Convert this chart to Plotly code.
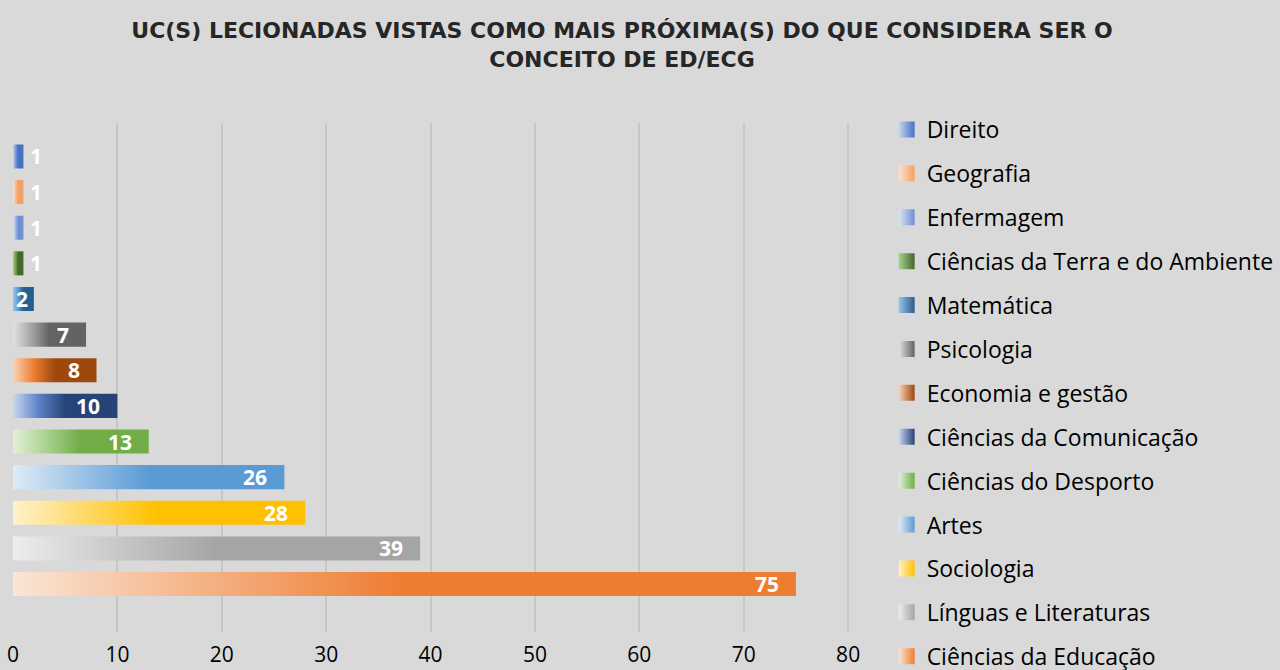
import plotly.graph_objects as go

# ---- data (top of legend / top of chart first) ----
categories = ["Direito", "Geografia", "Enfermagem", "Ciências da Terra e do Ambiente",
              "Matemática", "Psicologia", "Economia e gestão", "Ciências da Comunicação",
              "Ciências do Desporto", "Artes", "Sociologia", "Línguas e Literaturas",
              "Ciências da Educação"]
values = [1, 1, 1, 1, 2, 7, 8, 10, 13, 26, 28, 39, 75]
x_ticks = [0, 10, 20, 30, 40, 50, 60, 70, 80]

# gradient colours: light start, middle, full colour
start_colors = ["#C9D6EE", "#FCE2CF", "#DCE4F4", "#A9D18E", "#9DC3E6", "#E2E2E2", "#FBD3B8",
                "#C9D6EE", "#E2F0D9", "#DEEBF7", "#FFF2CC", "#EDEDED", "#FBE5D6"]
mid_colors = ["#7A9AD6", "#F7BE93", "#A3B8E3", "#6EA446", "#5B9BD5", "#A5A5A5", "#ED7D31",
              "#5A82C8", "#A9D18E", "#9DC3E6", "#FFD966", "#C9C9C9", "#F4B183"]
end_colors = ["#4472C4", "#F4A062", "#6E90D3", "#43682B", "#255E91", "#636363", "#9E480E",
              "#264478", "#70AD47", "#5B9BD5", "#FFC000", "#A5A5A5", "#ED7D31"]

BAR_HALF = 0.337
n = len(categories)
fig = go.Figure()

for k, (cat, v) in enumerate(zip(categories, values)):
    pos = n - 1 - k  # Direito at the top
    fig.add_trace(go.Scatter(
        x=[0, v, v, 0], y=[pos - BAR_HALF, pos - BAR_HALF, pos + BAR_HALF, pos + BAR_HALF],
        fill="toself", mode="lines", line=dict(width=0, color="rgba(0,0,0,0)"),
        fillgradient=dict(type="horizontal",
                          colorscale=[[0, start_colors[k]], [0.25, mid_colors[k]],
                                      [0.5, end_colors[k]], [1, end_colors[k]]]),
        showlegend=False, hoverinfo="skip", name=cat))
    # legend entry
    fig.add_trace(go.Scatter(
        x=[None], y=[None], mode="markers", name=cat, legendgroup=cat,
        marker=dict(symbol="square", size=16, color=start_colors[k],
                    gradient=dict(type="horizontal", color=end_colors[k]))))
    # value label
    if v <= 1:
        anchor, shift = "left", 5
    elif v <= 2:
        anchor, shift = "right", -4
    else:
        anchor, shift = "right", -15
    fig.add_annotation(x=v, y=pos, text=f"<b>{v}</b>", showarrow=False,
                       xanchor=anchor, xshift=shift, yanchor="middle",
                       font=dict(family="Open Sans", size=21, color="white"))

fig.update_layout(
    width=1280, height=670,
    paper_bgcolor="#D9D9D9", plot_bgcolor="#D9D9D9",
    margin=dict(l=13, r=411, t=123, b=38, autoexpand=False),
    title=dict(text="<b>UC(S) LECIONADAS VISTAS COMO MAIS PRÓXIMA(S) DO QUE CONSIDERA SER O<br>CONCEITO DE ED/ECG</b>",
               x=622 / 1280, xanchor="center", xref="container",
               y=1 - 38 / 670, yanchor="middle", yref="container",
               font=dict(family="DejaVu Sans", size=22, color="#262626")),
    xaxis=dict(range=[0, 82], tickvals=x_ticks, showgrid=True, gridcolor="#C6C6C6", gridwidth=1.5,
               zeroline=False, showline=False, ticks="outside", ticklen=4, tickcolor="rgba(0,0,0,0)",
               tickfont=dict(family="Open Sans", size=21, color="#000000")),
    yaxis=dict(range=[-1.347, 12.94], showticklabels=False, showgrid=False, zeroline=False, showline=False),
    legend=dict(x=1.0206, xanchor="left", y=1.0295, yanchor="top", traceorder="grouped",
                tracegroupgap=11, maxheight=1.0,
                font=dict(family="Open Sans", size=23, color="#000000"), bgcolor="rgba(0,0,0,0)"),
    showlegend=True,
)

fig.write_html("out.html", config={"displayModeBar": False},
               post_script="document.body.style.margin='0';")
